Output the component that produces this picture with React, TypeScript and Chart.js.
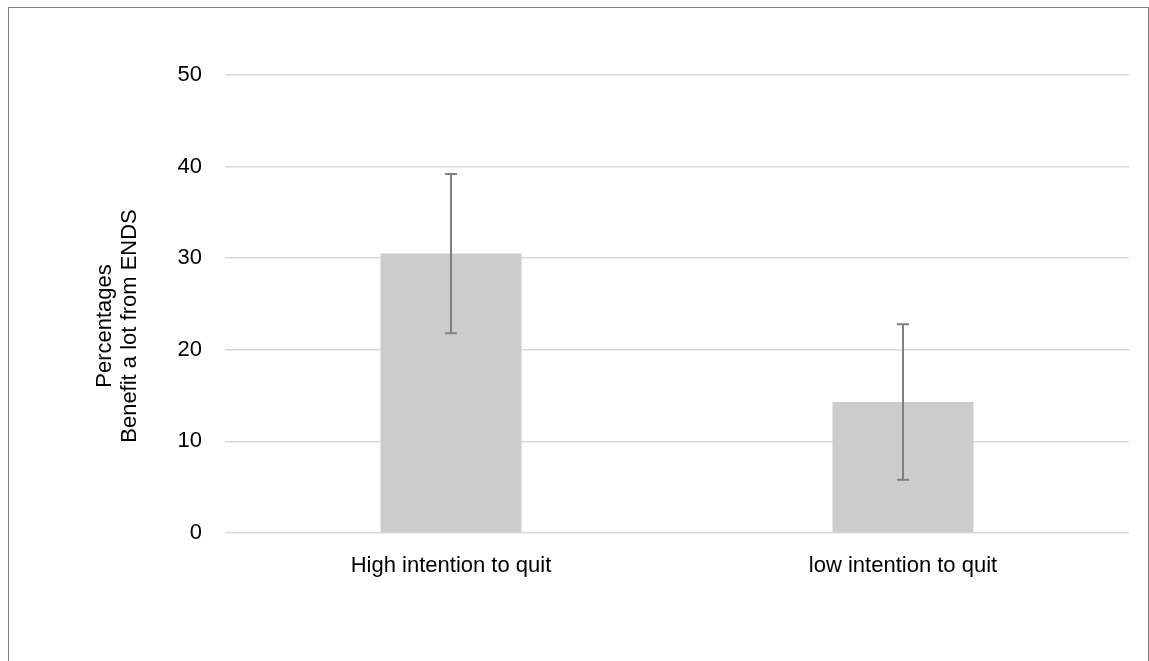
import React, { useEffect, useRef } from "react";
import { Chart, registerables } from "chart.js";

Chart.register(...registerables);

const categories = ["High intention to quit", "low intention to quit"];
const values = [30.5, 14.3];
const errLow = [21.8, 5.8];
const errHigh = [39.2, 22.8];
const yTitle = ["Percentages", "Benefit a lot from ENDS"];

const FONT = "'Liberation Sans', Arial, sans-serif";

const errorBarPlugin = {
  id: "errorBars",
  afterDatasetsDraw(chart: any) {
    const { ctx, scales } = chart;
    const meta = chart.getDatasetMeta(0);
    ctx.save();
    ctx.strokeStyle = "#7f7f7f";
    ctx.lineWidth = 2;
    meta.data.forEach((bar: any, i: number) => {
      const x = bar.x;
      const yl = scales.y.getPixelForValue(errLow[i]);
      const yh = scales.y.getPixelForValue(errHigh[i]);
      ctx.beginPath();
      ctx.moveTo(x, yl);
      ctx.lineTo(x, yh);
      ctx.moveTo(x - 6, yl);
      ctx.lineTo(x + 6, yl);
      ctx.moveTo(x - 6, yh);
      ctx.lineTo(x + 6, yh);
      ctx.stroke();
    });
    ctx.restore();
  },
};

const yTitlePlugin = {
  id: "yTitle",
  afterDraw(chart: any) {
    const { ctx, chartArea } = chart;
    const cy = (chartArea.top + chartArea.bottom) / 2 + 22;
    ctx.save();
    ctx.fillStyle = "#000";
    ctx.font = `22px ${FONT}`;
    ctx.textAlign = "center";
    ctx.textBaseline = "middle";
    yTitle.forEach((line, i) => {
      ctx.save();
      ctx.translate(105 + i * 25, cy);
      ctx.rotate(-Math.PI / 2);
      ctx.fillText(line, 0, 0);
      ctx.restore();
    });
    ctx.restore();
  },
};

export default function App() {
  const ref = useRef<HTMLCanvasElement>(null);
  useEffect(() => {
    if (!ref.current) return;
    const chart = new Chart(ref.current, {
      type: "bar",
      data: {
        labels: categories,
        datasets: [
          {
            data: values,
            backgroundColor: "#cccccc",
            borderWidth: 0,
            categoryPercentage: 1,
            barPercentage: 0.312,
          },
        ],
      },
      options: {
        animation: false,
        responsive: false,
        maintainAspectRatio: false,
        layout: { padding: { top: 75, left: 92, right: 20, bottom: 0 } },
        plugins: { legend: { display: false }, tooltip: { enabled: false } },
        scales: {
          x: {
            grid: { display: false, drawTicks: false },
            border: { display: false },
            ticks: { color: "#000", padding: 20, font: { family: FONT, size: 22 } },
            afterFit: (s: any) => {
              s.height = 128;
            },
          },
          y: {
            min: 0,
            max: 50,
            ticks: { stepSize: 10, color: "#000", padding: 23, font: { family: FONT, size: 22 } },
            grid: { color: "#d9d9d9", lineWidth: 1.5, drawTicks: false },
            border: { display: false },
            title: { display: false },
            afterFit: (s: any) => {
              s.width = 133;
            },
          },
        },
      },
      plugins: [errorBarPlugin, yTitlePlugin],
    });
    return () => chart.destroy();
  }, []);
  return (
    <div style={{ position: "absolute", left: 0, top: 0, width: 1149, height: 661, background: "#fff" }}>
      <canvas ref={ref} width={1149} height={661} style={{ position: "absolute", left: 0, top: 0 }} />
      <div
        style={{
          position: "absolute",
          left: 8,
          top: 7,
          width: 1141,
          height: 720,
          boxSizing: "border-box",
          border: "1px solid #7f7f7f",
          pointerEvents: "none",
        }}
      />
    </div>
  );
}
